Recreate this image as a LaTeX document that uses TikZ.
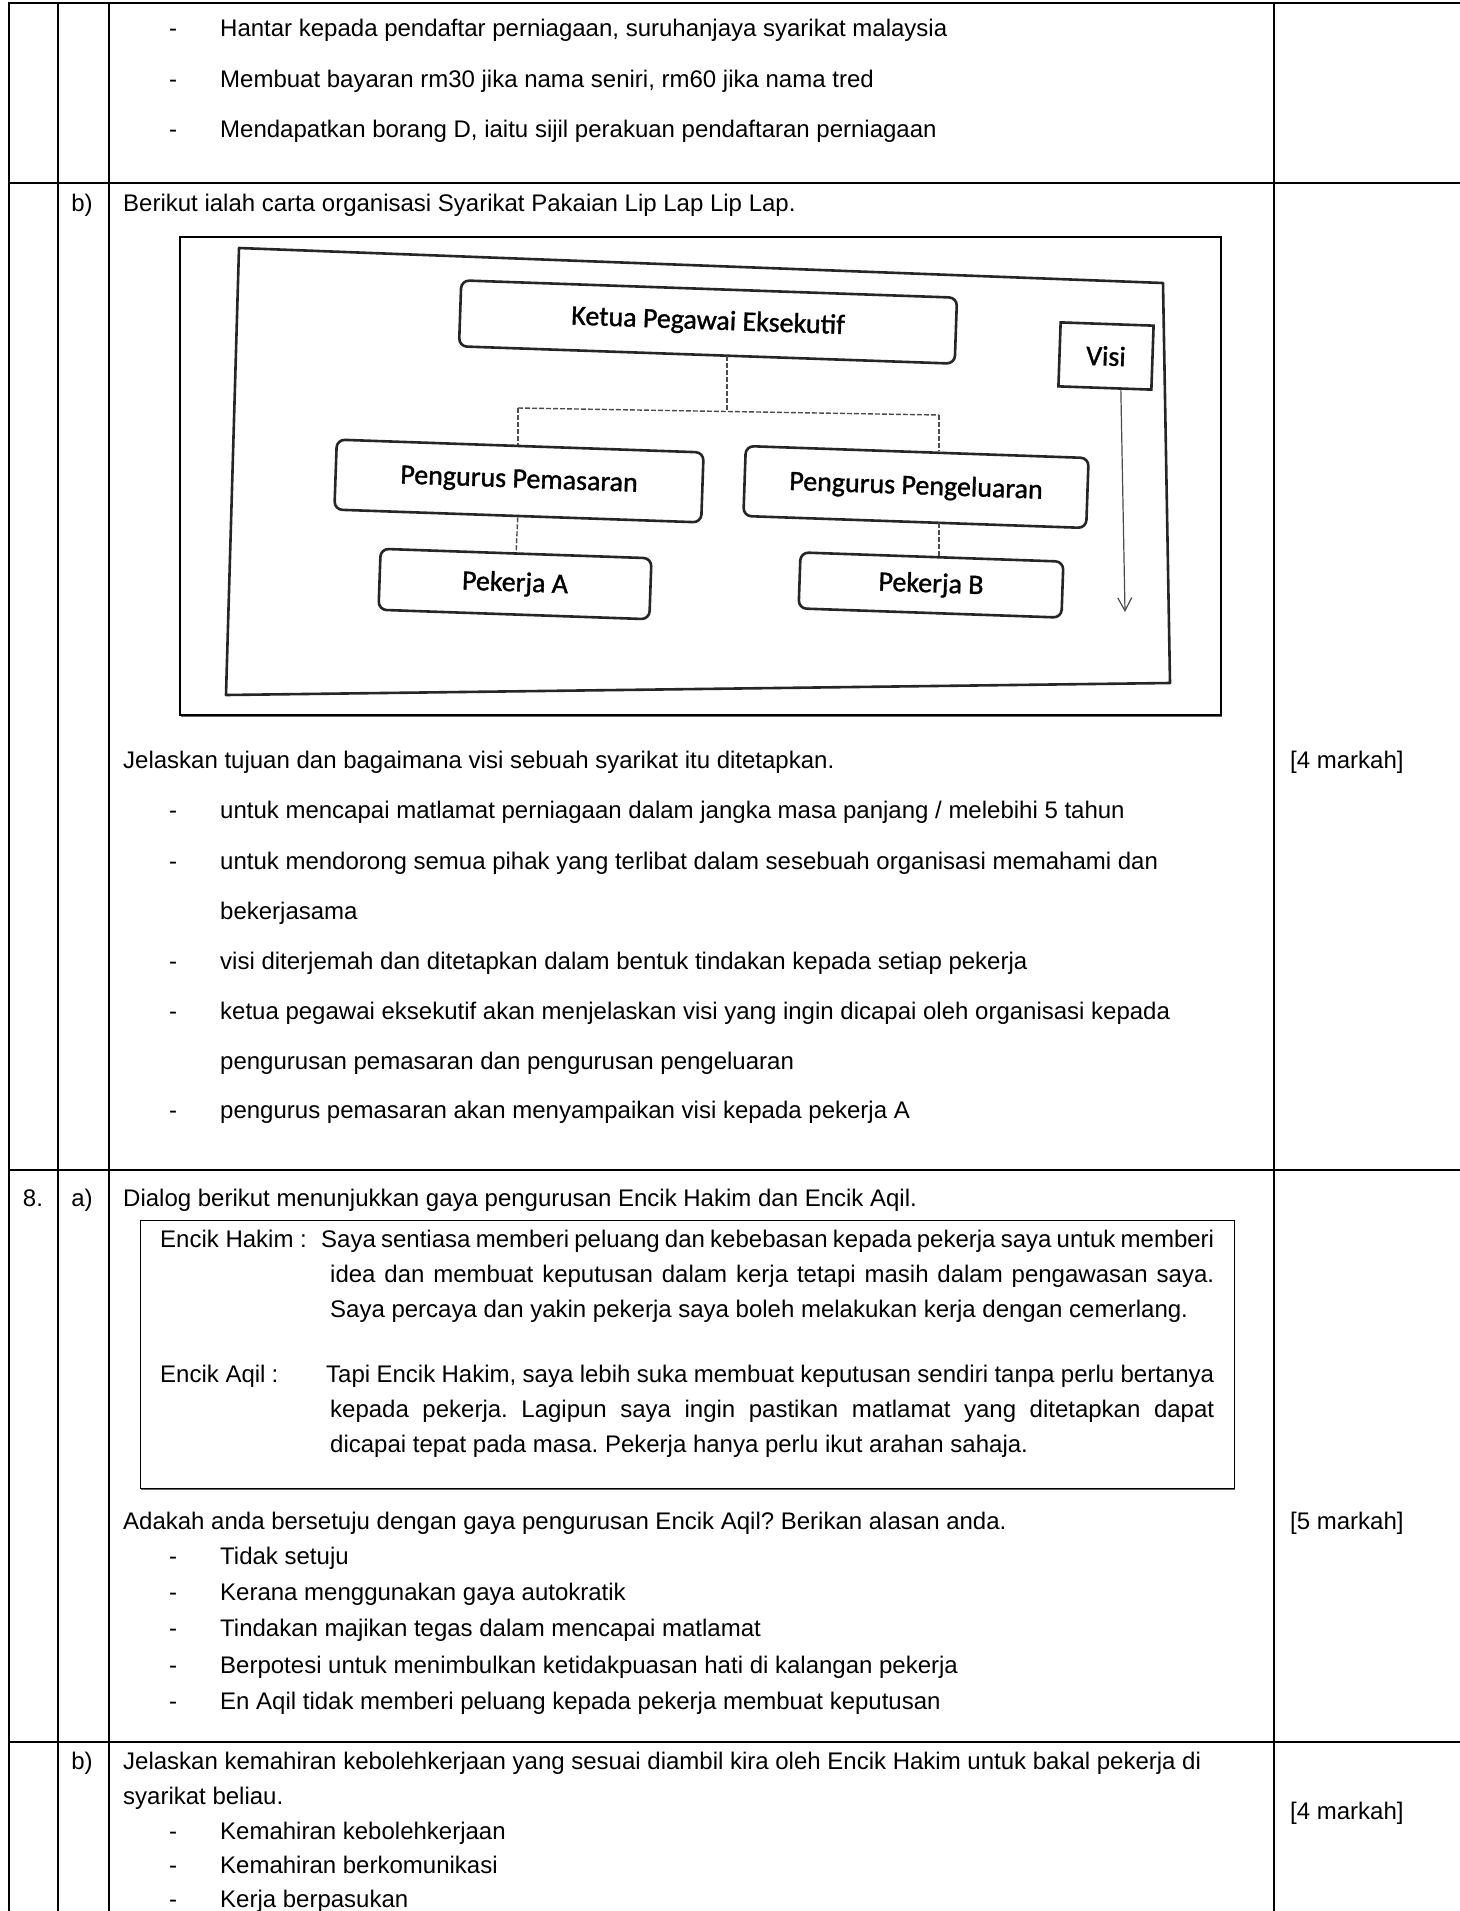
\documentclass[tikz,border=0pt]{standalone}
\usepackage{fontspec}
\setmainfont{Liberation Sans}
\newfontfamily\diafont{Carlito}[FakeBold=1.2]
\usetikzlibrary{arrows.meta,calc}
\newcommand\jline[2]{{\frenchspacing\spaceskip=0.12em plus 1fil\relax\makebox[#1][s]{#2}}}
\begin{document}
\frenchspacing
\begin{tikzpicture}[x=1pt,y=-1pt,
  txt/.style={anchor=west,inner sep=0pt,text height=17pt,text depth=5pt,font=\fontsize{24}{28}\selectfont\frenchspacing},
  ctxt/.style={txt,anchor=center},
  grid/.style={line width=2pt,line cap=rect},
  obox/.style={draw=black!85,line width=2.6pt,rounded corners=8pt,inner sep=0pt,rotate=-2,font=\diafont\fontsize{28}{32}\selectfont,text=black},
  conn/.style={draw=black!70,line width=1.4pt,dash pattern=on 5pt off 2pt},
]
\fill[white] (0,0) rectangle (1459,1911);
\useasboundingbox (0,0) rectangle (1459,1911);

% ---------- table grid ----------
\draw[grid] (9,3) -- (1459,3);
\draw[grid] (9,183) -- (1459,183);
\draw[grid] (9,1170) -- (1459,1170);
\draw[grid] (9,1742) -- (1459,1742);
\foreach \xx in {9,58,109,1274} \draw[grid] (\xx,3) -- (\xx,1915);

% ---------- top block ----------
\node[ctxt] (d1) at (173,31) {-};
\node[txt] (l1) at (220,31) {Hantar kepada pendaftar perniagaan, suruhanjaya syarikat malaysia};
\node[ctxt] (d2) at (173,81) {-};
\node[txt] (l2) at (220,81) {Membuat bayaran rm30 jika nama seniri, rm60 jika nama tred};
\node[ctxt] (d3) at (173,131) {-};
\node[txt] (l3) at (220,131) {Mendapatkan borang D, iaitu sijil perakuan pendaftaran perniagaan};

% ---------- b) ----------
\node[ctxt] (lb1) at (82,205) {b)};
\node[txt] (q1) at (123,205) {Berikut ialah carta organisasi Syarikat Pakaian Lip Lap Lip Lap.};

% picture frame
\draw[black!60,line width=1.2pt] (181,716.5) -- (1222,716.5);
\draw[line width=1.3pt] (180,237) rectangle (1221,715);

% scanned chart
\draw[black!85,line width=2.6pt,line join=round] (239,248) -- (1163,283) -- (1170,683) -- (226,695) -- cycle;
\node[obox,minimum width=496pt,minimum height=66pt] (ketua) at (708,322) {Ketua Pegawai Eksekutif};
\node[obox,rounded corners=0pt,minimum width=93pt,minimum height=64pt] (visi) at (1106,356) {Visi};
\node[obox,minimum width=367pt,minimum height=70pt] (pem) at (519,481) {Pengurus Pemasaran};
\node[obox,minimum width=343pt,minimum height=70pt] (peng) at (916,487) {Pengurus Pengeluaran};
\node[obox,minimum width=271pt,minimum height=61pt] (pka) at (515,584) {Pekerja A};
\node[obox,minimum width=263pt,minimum height=56pt] (pkb) at (931,585) {Pekerja B};
\coordinate (j0) at (727,411.5);
\coordinate (jl) at (518,408);
\coordinate (jr) at (939,415);
\draw[conn] (j0 |- ketua.south) -- (j0);
\draw[conn] (jl) -- (j0) -- (jr);
\draw[conn] (jl) -- (jl |- pem.north);
\draw[conn] (jr) -- (jr |- peng.north);
\draw[conn] (pem.south) -- (pka.north);
\draw[conn] (jr |- peng.south) -- (jr |- pkb.north);
\coordinate (vend) at (1125,612);
\draw[black!70,line width=1.2pt,-{Straight Barb[length=13pt,width=14pt,line width=1.2pt]}] ($(visi.south)+(16,0)$) -- (vend);

% question and answers
\node[txt] (q2) at (123,762) {Jelaskan tujuan dan bagaimana visi sebuah syarikat itu ditetapkan.};
\node[txt] (m1) at (1290,762) {[4 markah]};
\node[ctxt] (d4) at (173,812) {-};
\node[txt] (a1) at (220,812) {untuk mencapai matlamat perniagaan dalam jangka masa panjang / melebihi 5 tahun};
\node[ctxt] (d5) at (173,863) {-};
\node[txt] (a2) at (220,863) {untuk mendorong semua pihak yang terlibat dalam sesebuah organisasi memahami dan};
\node[txt] (a2b) at (220,913) {bekerjasama};
\node[ctxt] (d6) at (173,963) {-};
\node[txt] (a3) at (220,963) {visi diterjemah dan ditetapkan dalam bentuk tindakan kepada setiap pekerja};
\node[ctxt] (d7) at (173,1013) {-};
\node[txt] (a4) at (220,1013) {ketua pegawai eksekutif akan menjelaskan visi yang ingin dicapai oleh organisasi kepada};
\node[txt] (a4b) at (220,1063) {pengurusan pemasaran dan pengurusan pengeluaran};
\node[ctxt] (d8) at (173,1112) {-};
\node[txt] (a5) at (220,1112) {pengurus pemasaran akan menyampaikan visi kepada pekerja A};

% ---------- 8. a) ----------
\node[ctxt] (n8) at (33,1200) {8.};
\node[ctxt] (la) at (82,1200) {a)};
\node[txt] (q3) at (123,1200) {Dialog berikut menunjukkan gaya pengurusan Encik Hakim dan Encik Aqil.};

\draw[black!60,line width=1.2pt] (141,1489.5) -- (1235,1489.5);
\draw[line width=1pt] (140,1220) rectangle (1234,1488);
\node[txt] (h0) at (160,1241) {Encik Hakim :};
\node[txt] (h1) at (321,1241) {\jline{893pt}{Saya sentiasa memberi peluang dan kebebasan kepada pekerja saya untuk memberi}};
\node[txt] (h2) at (330,1276) {\jline{884pt}{idea dan membuat keputusan dalam kerja tetapi masih dalam pengawasan saya.}};
\node[txt] (h3) at (330,1311) {Saya percaya dan yakin pekerja saya boleh melakukan kerja dengan cemerlang.};
\node[txt] (k0) at (160,1376) {Encik Aqil\hspace{6pt}:};
\node[txt] (k1) at (326,1376) {\jline{888pt}{Tapi Encik Hakim, saya lebih suka membuat keputusan sendiri tanpa perlu bertanya}};
\node[txt] (k2) at (330,1411) {\jline{884pt}{kepada pekerja. Lagipun saya ingin pastikan matlamat yang ditetapkan dapat}};
\node[txt] (k3) at (330,1446) {dicapai tepat pada masa. Pekerja hanya perlu ikut arahan sahaja.};

\node[txt] (q4) at (123,1523) {Adakah anda bersetuju dengan gaya pengurusan Encik Aqil? Berikan alasan anda.};
\node[txt] (m2) at (1290,1523) {[5 markah]};
\node[ctxt] (e1) at (173,1558) {-};
\node[txt] (b1) at (220,1558) {Tidak setuju};
\node[ctxt] (e2) at (173,1594) {-};
\node[txt] (b2) at (220,1594) {Kerana menggunakan gaya autokratik};
\node[ctxt] (e3) at (173,1630) {-};
\node[txt] (b3) at (220,1630) {Tindakan majikan tegas dalam mencapai matlamat};
\node[ctxt] (e4) at (173,1667) {-};
\node[txt] (b4) at (220,1667) {Berpotesi untuk menimbulkan ketidakpuasan hati di kalangan pekerja};
\node[ctxt] (e5) at (173,1703) {-};
\node[txt] (b5) at (220,1703) {En Aqil tidak memberi peluang kepada pekerja membuat keputusan};

% ---------- b) ----------
\node[ctxt] (lb2) at (82,1763) {b)};
\node[txt] (q5) at (123,1763) {Jelaskan kemahiran kebolehkerjaan yang sesuai diambil kira oleh Encik Hakim untuk bakal pekerja di};
\node[txt] (q5b) at (123,1798) {syarikat beliau.};
\node[txt] (m3) at (1290,1813) {[4 markah]};
\node[ctxt] (f1) at (173,1833) {-};
\node[txt] (c1) at (220,1833) {Kemahiran kebolehkerjaan};
\node[ctxt] (f2) at (173,1867) {-};
\node[txt] (c2) at (220,1867) {Kemahiran berkomunikasi};
\node[ctxt] (f3) at (173,1901) {-};
\node[txt] (c3) at (220,1901) {Kerja berpasukan};
\end{tikzpicture}
\end{document}
